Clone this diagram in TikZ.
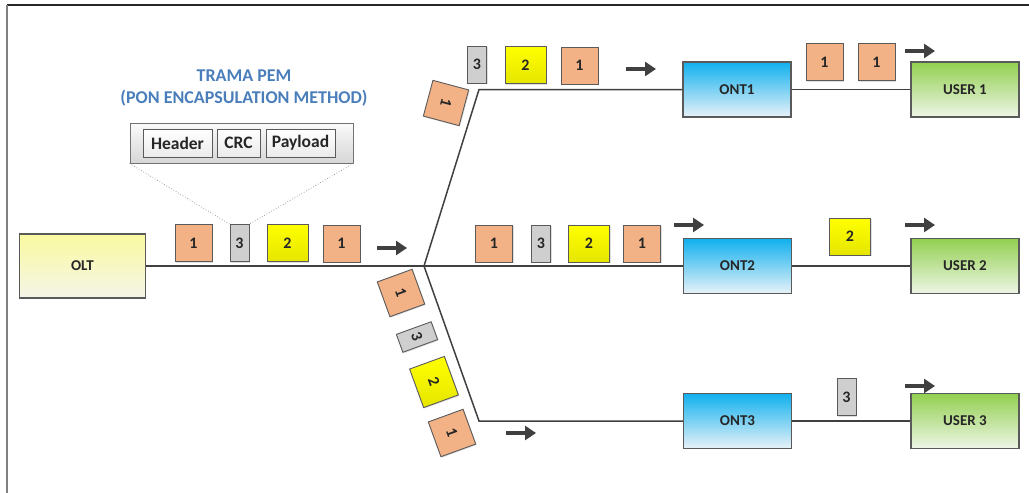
\documentclass[tikz,border=0pt]{standalone}
\usepackage{fontspec}
\setmainfont{Carlito}
\usetikzlibrary{arrows.meta,shadows}
\definecolor{edge}{HTML}{5A5A5A}
\definecolor{wire}{HTML}{404040}
\definecolor{orangetile}{HTML}{F2B286}
\definecolor{graytile}{HTML}{CFCFCF}
\definecolor{titleblue}{HTML}{4A7EBB}
\tikzset{
  unitbox/.style={draw=edge, line width=1.1pt, inner sep=0pt, minimum width=108pt, minimum height=55pt,
    font=\fontsize{15}{17}\selectfont\bfseries, text=black!85},
  oltbox/.style={unitbox, minimum width=126pt, minimum height=64pt, top color={rgb,255:red,250;green,250;blue,160}, bottom color={rgb,255:red,244;green,244;blue,232}},
  ontbox/.style={unitbox, top color={rgb,255:red,16;green,176;blue,238}, bottom color={rgb,255:red,232;green,242;blue,248}},
  userbox/.style={unitbox, top color={rgb,255:red,146;green,208;blue,80}, bottom color={rgb,255:red,238;green,245;blue,230}},
  tile/.style={draw=edge, line width=0.9pt, inner sep=0pt, minimum height=37pt,
    font=\fontsize{16}{18}\selectfont\bfseries, text=black!85,
    drop shadow={shadow xshift=1pt, shadow yshift=-1pt, opacity=0.25}},
  otile/.style={tile, minimum width=37pt, fill=orangetile},
  gtile/.style={tile, minimum width=19pt, fill=graytile},
  ytile/.style={tile, minimum width=41pt, top color=yellow, bottom color=yellow!90!black},
  fieldbox/.style={draw=edge, line width=0.9pt, inner sep=0pt, minimum height=28pt, top color=white, bottom color=black!8,
    font=\fontsize{17.5}{20}\selectfont\bfseries, text=black!85},
  wireline/.style={draw=wire, line width=1.5pt},
  flow/.style={draw=wire, line width=4pt, -{Triangle[length=11pt,width=14pt]}},
  zoomline/.style={draw=black!45, line width=0.7pt, dotted},
  titletext/.style={text=titleblue, font=\fontsize{18}{21}\selectfont\bfseries}
}
\begin{document}
\begin{tikzpicture}[x=1pt,y=-1pt]
\useasboundingbox (0,0) rectangle (1029,493);
% frame
\draw[black!85, line width=1.2pt] (7,5) -- (1029,5);
\draw[black!50, line width=2.2pt] (7,5) -- (7,493);

% title
\node[titletext] (t1) at (244,76) {TRAMA PEM};
\node[titletext] (t2) at (244,98) {(PON ENCAPSULATION METHOD)};

% PEM frame
\node[draw=black!55, line width=0.9pt, minimum width=223pt, minimum height=40pt, inner sep=0pt,
  top color=black!2, bottom color=black!16] (frame) at (241.5,143) {};
\node[fieldbox, minimum width=69pt] (hdr) at (177.5,143) {Header};
\node[fieldbox, minimum width=43pt] (crc) at (238.5,143) {CRC};
\node[fieldbox, minimum width=69pt] (pay) at (300.5,143) {Payload};

% main units
\node[oltbox] (olt) at (82.5,266) {OLT};
\node[ontbox] (ont1) at (737,89.5) {ONT1};
\node[ontbox] (ont2) at (737.5,266) {ONT2};
\node[ontbox] (ont3) at (737.5,421) {ONT3};
\node[userbox] (u1) at (965,89.5) {USER 1};
\node[userbox] (u2) at (965,266) {USER 2};
\node[userbox] (u3) at (965,421) {USER 3};

% fibre
\coordinate (split) at (424,266);
\coordinate (c1) at (479,89.5);
\coordinate (c3) at (479,421);
\draw[wireline] (olt.east) -- (split);
\draw[wireline] (split) -- (ont2.west);
\draw[wireline] (split) -- (c1) -- (ont1.west);
\draw[wireline] (split) -- (c3) -- (ont3.west);
\draw[wireline] (ont1.east) -- (u1.west);
\draw[wireline] (ont2.east) -- (u2.west);
\draw[wireline] (ont3.east) -- (u3.west);

% tiles on OLT line
\node[otile] (m1) at (193.5,243) {1};
\node[gtile] (m3) at (239.5,243) {3};
\node[ytile] (m2) at (287.5,243) {2};
\node[otile] (m1b) at (341.5,243.5) {1};
\draw[zoomline] (frame.south west) -- (m3.north west);
\draw[zoomline] (frame.south east) -- (m3.north east);
\coordinate (a0s) at (377,248); \coordinate (a0e) at (407,248);
\draw[flow] (a0s) -- (a0e);

% top branch
\node[otile, rotate=-105] (r1) at (446,103) {1};
\node[gtile] (p3) at (477,64.5) {3};
\node[ytile] (p2) at (525.5,65) {2};
\node[otile] (p1) at (579.5,65.5) {1};
\coordinate (a1s) at (626,69); \coordinate (a1e) at (656,69);
\draw[flow] (a1s) -- (a1e);
\node[otile] (q1) at (824.5,62) {1};
\node[otile] (q1b) at (876.5,62) {1};
\coordinate (a2s) at (905,51); \coordinate (a2e) at (935,51);
\draw[flow] (a2s) -- (a2e);

% middle branch
\node[otile] (s1) at (494,243.5) {1};
\node[gtile] (s3) at (541,243.5) {3};
\node[ytile] (s2) at (589,243.5) {2};
\node[otile] (s1b) at (642,243.5) {1};
\coordinate (a3s) at (674,225); \coordinate (a3e) at (704,225);
\draw[flow] (a3s) -- (a3e);
\node[ytile] (v2) at (850,236.5) {2};
\coordinate (a4s) at (905,225); \coordinate (a4e) at (935,225);
\draw[flow] (a4s) -- (a4e);

% bottom branch
\node[otile, rotate=-70] (b1) at (401,293) {1};
\node[gtile, rotate=-70] (b3) at (417,337) {3};
\node[ytile, rotate=-70] (b2) at (434,382) {2};
\node[otile, rotate=-70] (b1b) at (452,433) {1};
\coordinate (a5s) at (506,433); \coordinate (a5e) at (536,433);
\draw[flow] (a5s) -- (a5e);
\node[gtile] (w3) at (846.5,397) {3};
\coordinate (a6s) at (905,386); \coordinate (a6e) at (935,386);
\draw[flow] (a6s) -- (a6e);
\end{tikzpicture}
\end{document}
